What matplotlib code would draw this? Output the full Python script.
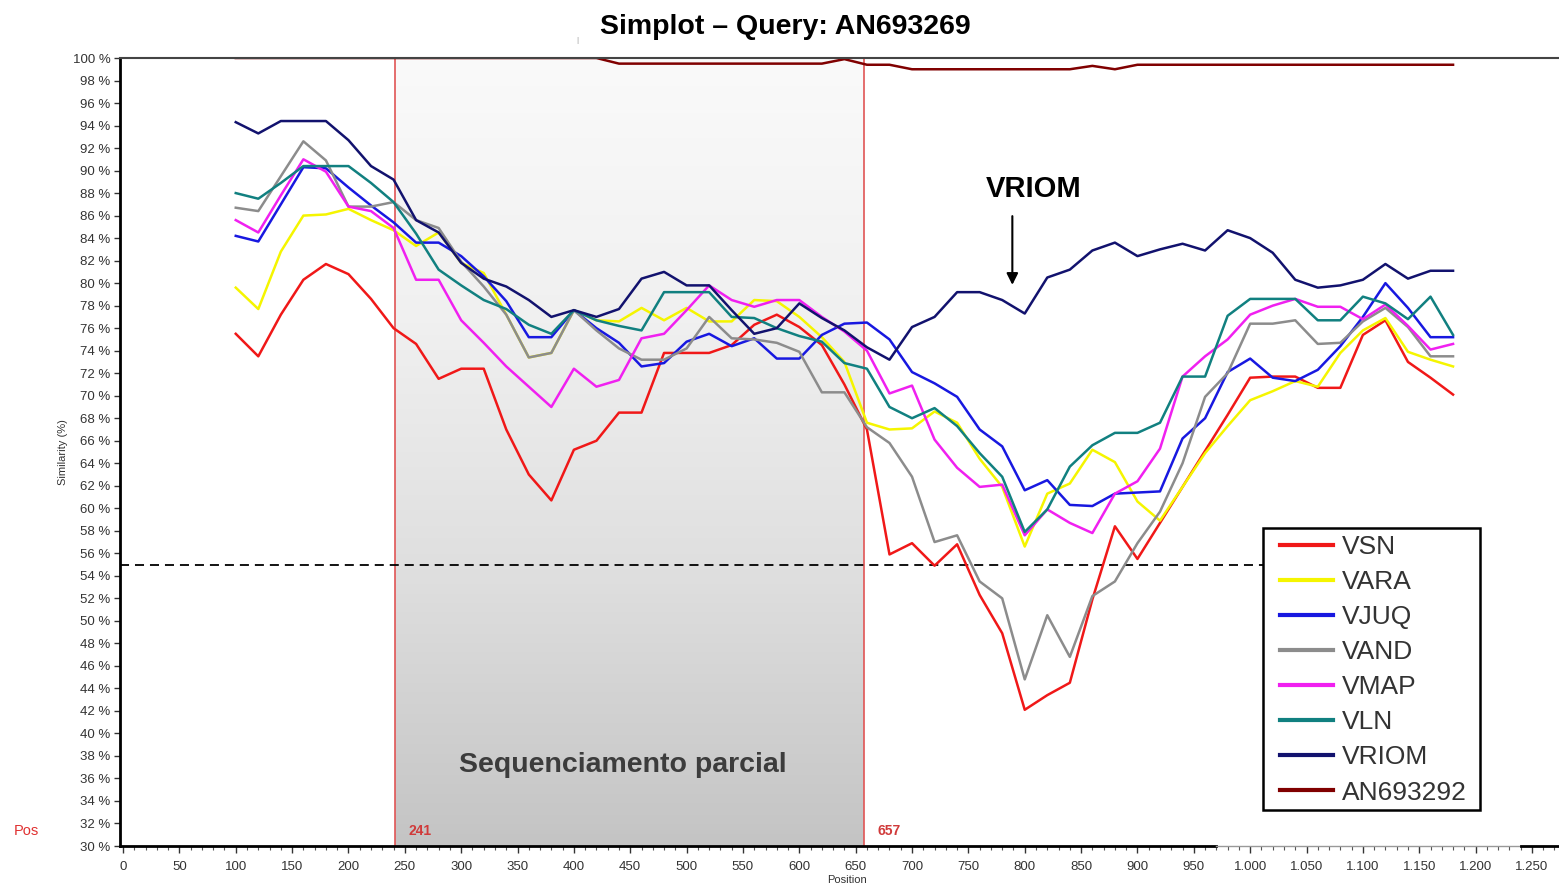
import matplotlib
matplotlib.use('Agg')
import matplotlib.pyplot as plt
import numpy as np
from matplotlib.ticker import MultipleLocator, FuncFormatter
from matplotlib.colors import LinearSegmentedColormap
from matplotlib.lines import Line2D
from matplotlib.patches import Rectangle

plt.rcParams['font.family'] = ['Liberation Sans', 'DejaVu Sans']

# ---------------- data ----------------
positions = [100, 120, 140, 160, 180, 200, 220, 240, 260, 280, 300, 320, 340, 360,
             380, 400, 420, 440, 460, 480, 500, 520, 540, 560, 580, 600, 620, 640,
             660, 680, 700, 720, 740, 760, 780, 800, 820, 840, 860, 880, 900, 920,
             940, 960, 980, 1000, 1020, 1040, 1060, 1080, 1100, 1120, 1140, 1160, 1180]

vsn = [75.5, 73.5, 77.2, 80.3, 81.7, 80.8, 78.6, 76.0, 74.6, 71.5, 72.4, 72.4, 67.0, 63.0,
       60.7, 65.2, 66.0, 68.5, 68.5, 73.8, 73.8, 73.8, 74.5, 76.3, 77.2, 76.1, 74.5, 71.0,
       67.0, 55.9, 56.9, 54.9, 56.8, 52.3, 48.9, 42.1, 43.4, 44.5, 51.9, 58.4, 55.5, 58.7,
       61.9, 65.1, 68.3, 71.6, 71.7, 71.7, 70.7, 70.7, 75.4, 76.7, 73.0, 71.6, 70.1]

vara = [79.6, 77.7, 82.8, 86.0, 86.1, 86.6, 85.6, 84.7, 83.3, 84.5, 81.8, 80.9, 77.2, 73.4,
        73.8, 77.6, 76.7, 76.6, 77.8, 76.7, 77.8, 76.6, 76.6, 78.5, 78.4, 77.0, 75.2, 73.0,
        67.6, 67.0, 67.1, 68.6, 67.6, 64.4, 61.9, 56.6, 61.3, 62.2, 65.2, 64.1, 60.6, 58.9,
        61.9, 64.9, 67.3, 69.6, 70.4, 71.3, 70.8, 73.8, 75.8, 76.9, 73.9, 73.2, 72.6]

vjuq = [84.2, 83.7, 87.0, 90.3, 90.2, 88.5, 86.9, 85.4, 83.6, 83.6, 82.4, 80.6, 78.4, 75.2,
        75.2, 77.6, 76.0, 74.7, 72.6, 72.9, 74.8, 75.5, 74.4, 75.1, 73.3, 73.3, 75.4, 76.4,
        76.5, 75.0, 72.1, 71.1, 69.9, 67.0, 65.5, 61.6, 62.5, 60.3, 60.2, 61.3, 61.4, 61.5,
        66.2, 68.0, 72.1, 73.3, 71.6, 71.3, 72.3, 74.4, 77.0, 80.0, 77.8, 75.2, 75.2]

vand = [86.7, 86.4, 89.5, 92.6, 90.9, 86.8, 86.8, 87.2, 85.6, 84.9, 81.9, 79.7, 77.2, 73.4,
        73.8, 77.6, 75.8, 74.2, 73.2, 73.2, 74.2, 77.0, 75.1, 75.0, 74.7, 73.9, 70.3, 70.3,
        67.2, 65.8, 62.8, 57.0, 57.6, 53.5, 52.0, 44.8, 50.5, 46.8, 52.2, 53.5, 56.9, 59.7,
        64.0, 69.9, 72.0, 76.4, 76.4, 76.7, 74.6, 74.7, 76.6, 77.8, 76.1, 73.5, 73.5]

vmap = [85.6, 84.5, 87.8, 91.0, 89.9, 86.8, 86.4, 84.9, 80.3, 80.3, 76.7, 74.7, 72.6, 70.8,
        69.0, 72.4, 70.8, 71.4, 75.1, 75.5, 77.6, 79.8, 78.5, 77.9, 78.5, 78.5, 77.0, 75.7,
        74.0, 70.2, 70.9, 66.1, 63.6, 61.9, 62.1, 57.6, 59.9, 58.7, 57.8, 61.3, 62.4, 65.3,
        71.7, 73.5, 75.0, 77.2, 78.0, 78.6, 77.9, 77.9, 76.8, 78.1, 76.2, 74.1, 74.6]

vln = [88.0, 87.5, 88.9, 90.4, 90.4, 90.4, 88.9, 87.2, 84.4, 81.2, 79.8, 78.5, 77.7, 76.3,
       75.5, 77.6, 76.7, 76.2, 75.8, 79.2, 79.2, 79.2, 77.0, 76.9, 76.0, 75.3, 74.8, 72.9,
       72.4, 69.0, 68.0, 68.9, 67.3, 64.9, 62.8, 57.9, 59.9, 63.7, 65.6, 66.7, 66.7, 67.6,
       71.7, 71.7, 77.1, 78.6, 78.6, 78.6, 76.7, 76.7, 78.8, 78.2, 76.8, 78.8, 75.4]

vriom = [94.3, 93.3, 94.4, 94.4, 94.4, 92.7, 90.4, 89.2, 85.6, 84.5, 81.8, 80.4, 79.7, 78.5,
         77.0, 77.6, 77.0, 77.7, 80.4, 81.0, 79.8, 79.8, 77.6, 75.5, 76.0, 78.2, 76.9, 75.8,
         74.3, 73.2, 76.1, 77.0, 79.2, 79.2, 78.5, 77.3, 80.5, 81.2, 82.9, 83.6, 82.4, 83.0,
         83.5, 82.9, 84.7, 84.0, 82.7, 80.3, 79.6, 79.8, 80.3, 81.7, 80.4, 81.1, 81.1]

an693292 = [100.0, 100.0, 100.0, 100.0, 100.0, 100.0, 100.0, 100.0, 100.0, 100.0, 100.0,
            100.0, 100.0, 100.0, 100.0, 100.0, 100.0, 99.5, 99.5, 99.5, 99.5, 99.5, 99.5,
            99.5, 99.5, 99.5, 99.5, 99.9, 99.4, 99.4, 99.0, 99.0, 99.0, 99.0, 99.0, 99.0,
            99.0, 99.0, 99.3, 99.0, 99.4, 99.4, 99.4, 99.4, 99.4, 99.4, 99.4, 99.4, 99.4,
            99.4, 99.4, 99.4, 99.4, 99.4, 99.4]

series_names = ['VSN', 'VARA', 'VJUQ', 'VAND', 'VMAP', 'VLN', 'VRIOM', 'AN693292']
series_values = [vsn, vara, vjuq, vand, vmap, vln, vriom, an693292]
series_colors = ['#f01818', '#f5f500', '#1818e0', '#8c8c8c', '#f020f0', '#118080', '#12126e', '#800000']

region_start, region_end = 241, 657
threshold = 55
ytick_values = list(range(30, 101, 2))

# ---------------- figure ----------------
W, H = 1559, 888
fig = plt.figure(figsize=(W / 100, H / 100), dpi=100)
ax = fig.add_axes([120 / W, (H - 846) / H, (W - 120) / W, (846 - 58) / H])
XMIN, XMAX = -2.7, 1274

# gradient shading of partial sequencing region
grad = np.linspace(0, 1, 256).reshape(-1, 1)
cmap = LinearSegmentedColormap.from_list('g', ['#c4c4c4', '#dedede', '#f0f0f0', '#fafafa'])
ax.imshow(grad, extent=[region_start, region_end, 30, 100], origin='lower',
          aspect='auto', cmap=cmap, zorder=0)

ax.axvline(region_start, color='#e05555', lw=1.2, zorder=1)
ax.axvline(region_end, color='#e05555', lw=1.2, zorder=1)

ax.plot([XMIN, 1012], [threshold, threshold], color='black', lw=1.3,
        ls=(0, (5, 3.3)), zorder=1.5)

for name, vals, col in zip(series_names, series_values, series_colors):
    ax.plot(positions, vals, color=col, lw=1.8, label=name, zorder=2)

ax.set_xlim(XMIN, XMAX)
ax.set_ylim(30, 100)

# texts inside
ax.text(253, 31.35, str(region_start), color='#d03a3a', fontsize=10, fontweight='bold',
        ha='left', va='center')
ax.text(669, 31.35, str(region_end), color='#d03a3a', fontsize=10, fontweight='bold',
        ha='left', va='center')
ax.text(443, 37.2, 'Sequenciamento parcial', color='#3c3c3c', fontsize=20.5,
        fontweight='bold', ha='center', va='center')
ax.text(807.5, 88.4, 'VRIOM', color='black', fontsize=21, fontweight='bold',
        ha='center', va='center')
ax.annotate('', xy=(789, 79.6), xytext=(789, 86.2),
            arrowprops=dict(arrowstyle='-|>', color='black', lw=1.5, mutation_scale=17))

# ticks
ax.xaxis.set_major_locator(MultipleLocator(50))
ax.xaxis.set_minor_locator(MultipleLocator(10))
ax.xaxis.set_major_formatter(FuncFormatter(lambda v, p: f'{int(round(v)):,}'.replace(',', '.')))
ax.set_yticks(ytick_values)
ax.set_yticklabels([f'{v} %' for v in ytick_values])
ax.tick_params(axis='x', which='major', length=5, width=1, pad=6, labelsize=9.5,
               colors='#333333', direction='out')
ax.tick_params(axis='x', which='minor', length=3, width=0.8, colors='#555555')
ax.tick_params(axis='y', which='major', length=4, width=1, pad=3, labelsize=9.5,
               colors='#333333')

for s in ['right', 'bottom']:
    ax.spines[s].set_visible(False)
ax.spines['left'].set_linewidth(2)
ax.spines['left'].set_color('black')
ax.spines['top'].set_linewidth(1.5)
ax.spines['top'].set_color('#444444')
ax.spines['top'].set_zorder(3)

ax.plot([XMIN, 970], [30, 30], color='black', lw=2, clip_on=False, zorder=5)
ax.plot([970, 1240], [30, 30], color='#999999', lw=1, clip_on=False, zorder=5)
ax.plot([1240, XMAX], [30, 30], color='black', lw=2, clip_on=False, zorder=5)

# legend (frame drawn separately for exact padding)
fig.add_artist(Rectangle((1263 / W, 1 - 810 / H), (1480 - 1263) / W, (810 - 528) / H,
                         transform=fig.transFigure, facecolor='white', edgecolor='black',
                         lw=1.8, zorder=4))
handles = [Line2D([0], [0], color=c, lw=3.0) for c in series_colors]
leg = fig.legend(handles, series_names, loc='upper left',
                 bbox_to_anchor=(1280 / W, 1 - 535 / H), fontsize=19,
                 frameon=False, borderpad=0, labelspacing=0.42, handlelength=2.0,
                 handletextpad=0.34, borderaxespad=0)
leg.set_zorder(5)
for t in leg.get_texts():
    t.set_color('#333333')

# figure texts
fig.text(785 / W, 1 - 27 / H, 'Simplot – Query: AN693269', ha='center', va='center',
         fontsize=20.5, fontweight='bold')
fig.text(577 / W, 1 - 40 / H, '|', ha='center', va='center', fontsize=6, color='#999999')
fig.text(63 / W, 1 - 452 / H, 'Similarity (%)', rotation=90, ha='center', va='center',
         fontsize=8, color='#333333')
fig.text(847 / W, 1 - 880 / H, 'Position', ha='center', va='center', fontsize=8,
         color='#333333')
fig.text(26 / W, 1 - 831 / H, 'Pos', ha='center', va='center', fontsize=10.5,
         color='#e03030')

fig.savefig('out.png', dpi=100)
